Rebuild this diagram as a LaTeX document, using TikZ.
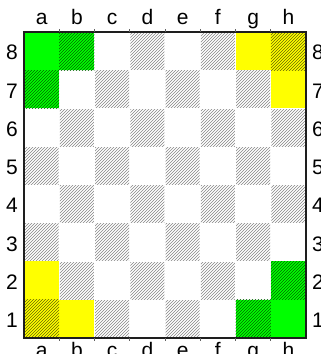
\documentclass[tikz,border=0pt]{standalone}
\usepackage{fontspec}
\setmainfont{Liberation Sans}
\usepackage{xcolor}
\usetikzlibrary{patterns}
\definecolor{boardgreen}{HTML}{00FF00}
\definecolor{boardyellow}{HTML}{FFFF00}
\definecolor{boarddark}{HTML}{1E1E1E}
\tikzset{
  hatch/.style={pattern=north east lines,pattern color=#1},
  hatch/.default=black!48,
  rim/.style={draw=boarddark,line width=2.4pt},
  rimthin/.style={draw=boarddark,line width=1.5pt},
  tick/.style={draw=boarddark!70,line width=0.7pt},
  coordlbl/.style={font=\fontsize{21}{25}\selectfont,inner sep=0pt},
}

\begin{document}
\begin{tikzpicture}[x=35.25pt,y=38.25pt]
  \useasboundingbox (-24pt,-16pt) rectangle (297pt,338pt);
  % hatched dark squares
  \foreach \c in {1,...,8}
    \foreach \r in {1,...,8}{
      \pgfmathparse{int(mod(\c+\r,2))}
      \ifnum\pgfmathresult=0
        \fill[hatch] ([xshift=0.6pt,yshift=0.6pt]\c-1,\r-1) rectangle ([xshift=-0.6pt,yshift=-0.6pt]\c,\r);
      \fi
    }
  % coloured squares
  \foreach \c/\r in {1/8,2/8,1/7,7/1,8/1,8/2}
    \fill[boardgreen] (\c-1,\r-1) rectangle (\c,\r);
  \foreach \c/\r in {7/8,8/8,8/7,1/2,1/1,2/1}
    \fill[boardyellow] (\c-1,\r-1) rectangle (\c,\r);
  \foreach \c/\r in {2/8,1/7,7/1,8/2}
    \fill[hatch=boardgreen!40!black] (\c-1,\r-1) rectangle (\c,\r);
  \foreach \c/\r in {8/8,1/1}
    \fill[hatch=boardyellow!40!black] (\c-1,\r-1) rectangle (\c,\r);
  % frame
  \draw[rim] (0,0) -- (0,8);
  \draw[rim] (8,0) -- (8,8);
  \draw[rimthin] (-1.2pt,8) -- ([xshift=1.2pt]8,8);
  \draw[rimthin] (-1.2pt,0) -- ([xshift=1.2pt]8,0);
  \foreach \i in {1,...,7}{
    \draw[tick] (\i,8) -- ([yshift=2.5pt]\i,8);
    \draw[tick] (\i,0) -- ([yshift=-2.5pt]\i,0);
  }
  % labels
  \foreach \f [count=\c] in {a,...,h}{
    \node[coordlbl,anchor=base] (top\f) at ([yshift=7pt]\c-0.5,8) {\f};
    \node[coordlbl,anchor=base] (bot\f) at ([yshift=-19pt]\c-0.5,0) {\f};
  }
  \foreach \r in {1,...,8}{
    \node[coordlbl,anchor=east] (left\r) at ([xshift=-6pt,yshift=-1.5pt]0,\r-0.5) {\r};
    \node[coordlbl,anchor=west] (right\r) at ([xshift=6pt,yshift=-1.5pt]8,\r-0.5) {\r};
  }
\end{tikzpicture}
\end{document}
